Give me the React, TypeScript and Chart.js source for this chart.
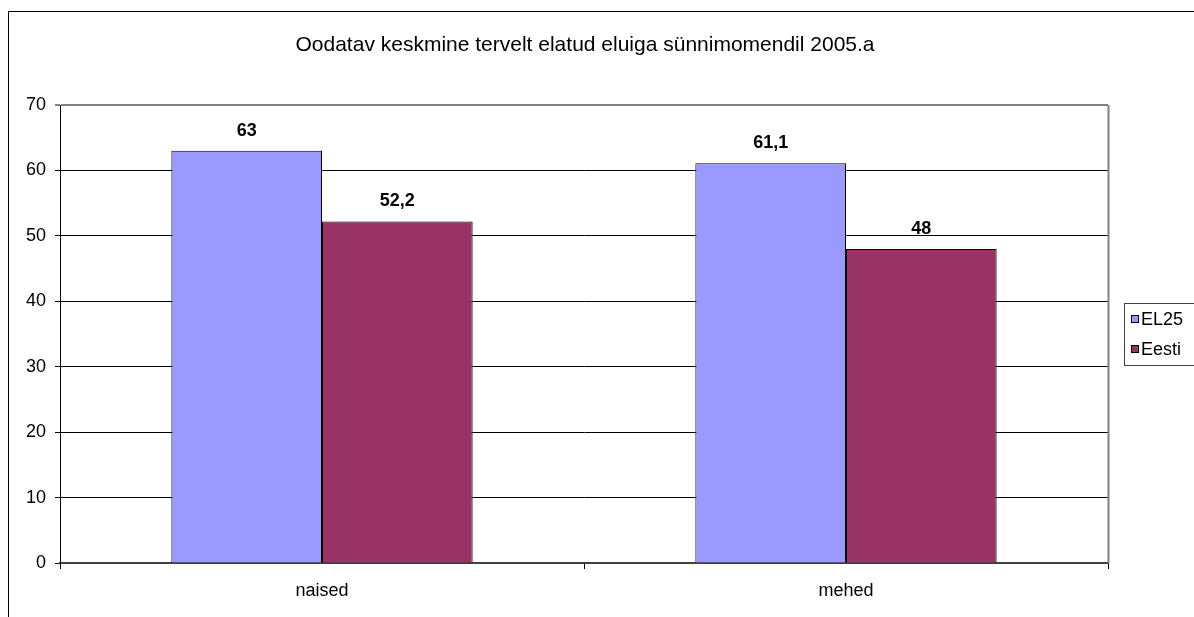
import React, { useEffect, useRef } from "react";
import { Chart, registerables } from "chart.js";

Chart.register(...registerables);

const categories = ["naised", "mehed"];
const seriesNames = ["EL25", "Eesti"];
const el25Values = [63, 61.1];
const eestiValues = [52.2, 48];
const seriesColors = ["#9999FF", "#993366"];
const titleText = "Oodatav keskmine tervelt elatud eluiga sünnimomendil 2005.a";

const CANVAS_W = 1200;
const CANVAS_H = 620;
const AREA_LEFT = 51;
const AREA_RIGHT = 1099;
const AREA_TOP = 93;
const AREA_BOTTOM = 551;
const FONT = "'Liberation Sans', Arial, sans-serif";

const fmt = (v: number) => String(v).replace(".", ",");

const decorPlugin = {
  id: "decor",
  afterDatasetsDraw(chart: any) {
    const ctx = chart.ctx;
    const area = chart.chartArea;
    ctx.save();
    // plot border right (gray)
    ctx.strokeStyle = "#808080";
    ctx.lineWidth = 2;
    ctx.beginPath();
    ctx.moveTo(area.right + 0.5, area.top);
    ctx.lineTo(area.right + 0.5, area.bottom);
    ctx.stroke();
    // data labels
    ctx.fillStyle = "#000";
    ctx.font = `bold 18px ${FONT}`;
    ctx.textAlign = "center";
    ctx.textBaseline = "middle";
    chart.data.datasets.forEach((ds: any, di: number) => {
      const meta = chart.getDatasetMeta(di);
      meta.data.forEach((bar: any, i: number) => {
        ctx.fillText(fmt(ds.data[i]), bar.x, bar.y - 20);
      });
    });
    // title
    ctx.font = `21px ${FONT}`;
    ctx.fillText(titleText, (area.left + area.right) / 2 + 1, 33);
    // legend
    const lx = 1115;
    const ly = 291;
    ctx.strokeStyle = "#404040";
    ctx.lineWidth = 1;
    ctx.strokeRect(lx + 0.5, ly + 0.5, 120, 62);
    ctx.font = `18px ${FONT}`;
    ctx.textAlign = "left";
    seriesNames.forEach((name, i) => {
      const cy = ly + 16 + i * 30;
      ctx.fillStyle = seriesColors[i];
      ctx.fillRect(lx + 7, cy - 4, 8, 8);
      ctx.strokeStyle = "#000";
      ctx.strokeRect(lx + 7.5, cy - 3.5, 7, 7);
      ctx.fillStyle = "#000";
      ctx.fillText(name, lx + 17, cy + 1);
    });
    ctx.restore();
  },
};

export default function App() {
  const ref = useRef<HTMLCanvasElement | null>(null);

  useEffect(() => {
    if (!ref.current) return;
    const chart = new Chart(ref.current, {
      type: "bar",
      data: {
        labels: categories,
        datasets: [
          {
            label: seriesNames[0],
            data: el25Values,
            backgroundColor: seriesColors[0],
            borderColor: "#000",
            borderWidth: 1,
          },
          {
            label: seriesNames[1],
            data: eestiValues,
            backgroundColor: seriesColors[1],
            borderColor: "#000",
            borderWidth: 1,
          },
        ],
      },
      options: {
        responsive: false,
        animation: false,
        events: [],
        datasets: {
          bar: { categoryPercentage: 0.575, barPercentage: 1 },
        },
        layout: {
          padding: { left: 0, top: AREA_TOP, right: CANVAS_W - AREA_RIGHT, bottom: 0 },
        },
        plugins: {
          legend: { display: false },
          title: { display: false },
          tooltip: { enabled: false },
        },
        scales: {
          x: {
            afterFit: (s: any) => {
              s.height = CANVAS_H - AREA_BOTTOM;
            },
            grid: {
              offset: true,
              drawOnChartArea: false,
              drawTicks: true,
              tickLength: 6,
              color: "#000",
            },
            border: { display: true, color: "#404040", width: 2 },
            ticks: {
              color: "#000",
              font: { family: FONT, size: 18 },
              padding: 11,
            },
          },
          y: {
            min: 0,
            max: 70,
            afterFit: (s: any) => {
              s.width = AREA_LEFT;
            },
            grid: {
              color: (c: any) =>
                c.tick && c.tick.value === 70 ? "#808080" : "#000",
              lineWidth: (c: any) => (c.tick && c.tick.value === 70 ? 2 : 1),
              tickLength: 5,
              drawTicks: true,
            },
            border: { display: true, color: "#000", width: 1 },
            ticks: {
              stepSize: 10,
              color: "#000",
              font: { family: FONT, size: 18 },
              padding: 9,
            },
          },
        },
      },
      plugins: [decorPlugin],
    });
    return () => chart.destroy();
  }, []);

  return (
    <div style={{ position: "fixed", inset: 0, overflow: "hidden", background: "#fff" }}>
      <div
        style={{
          position: "absolute",
          left: 8,
          top: 11,
          width: CANVAS_W,
          height: CANVAS_H,
          border: "1px solid #000",
        }}
      >
        <canvas ref={ref} width={CANVAS_W} height={CANVAS_H} style={{ display: "block" }} />
      </div>
    </div>
  );
}
